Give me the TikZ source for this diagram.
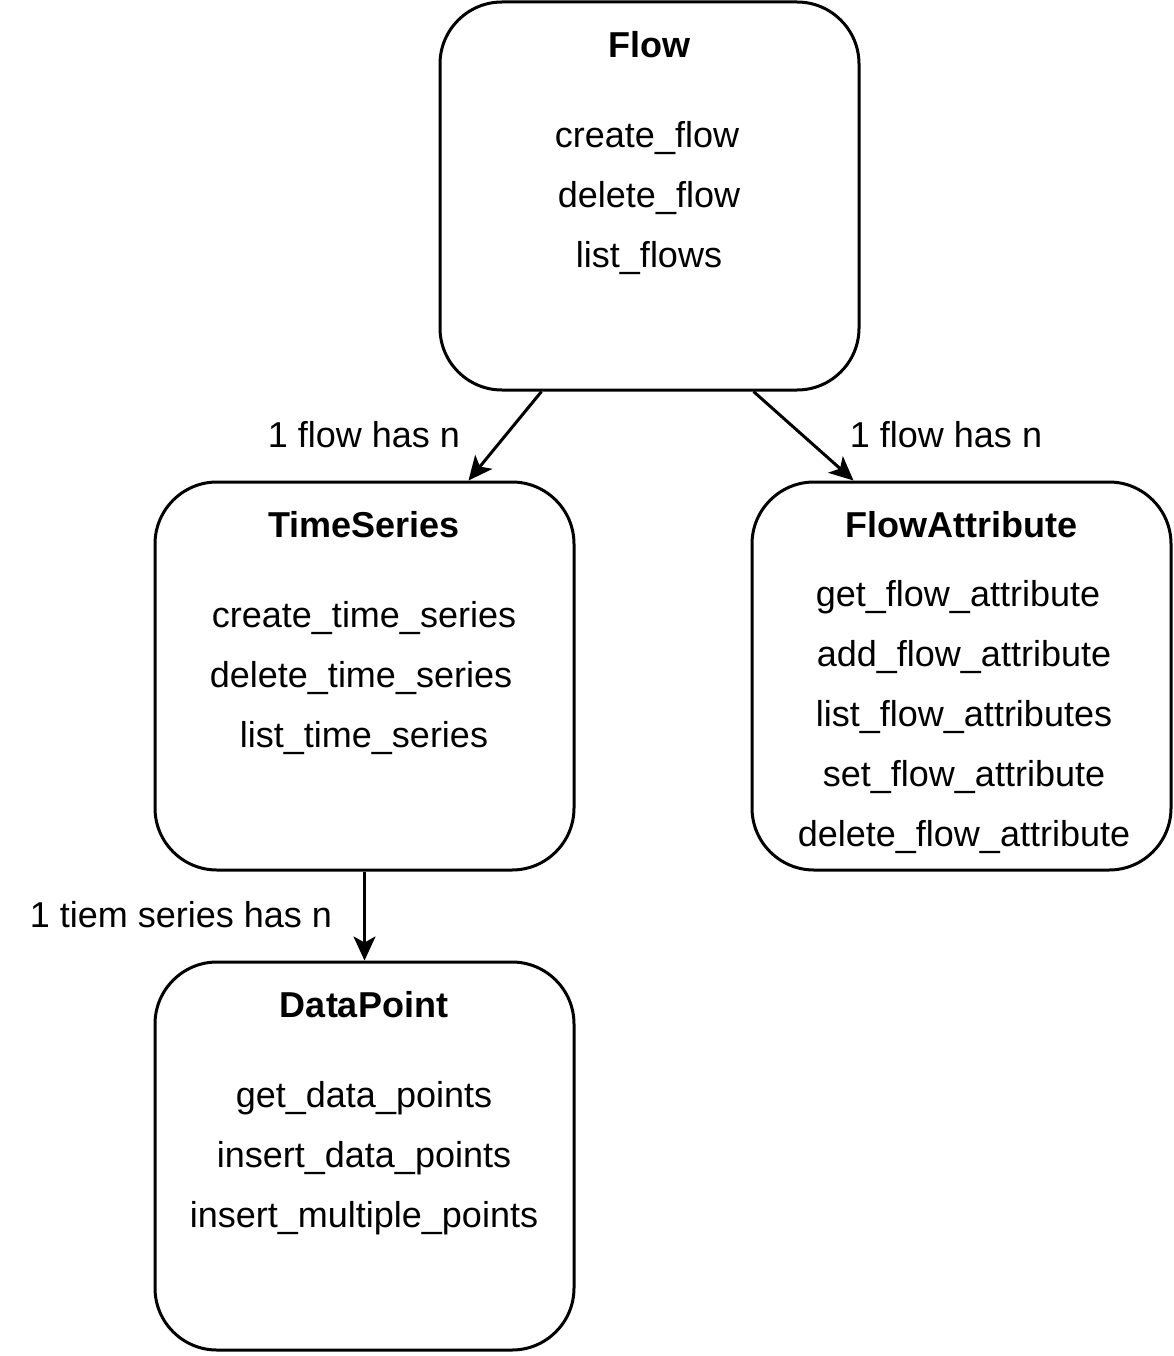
\documentclass[tikz,border=0pt]{standalone}
\usepackage{fontspec}
\setmainfont{Liberation Sans}
\usetikzlibrary{arrows.meta,calc}
\begin{document}
\begin{tikzpicture}[x=1pt,y=-1pt,
  box/.style={draw,line width=3pt,rounded corners=62pt,minimum width=419pt,minimum height=388pt,inner sep=0pt},
  title/.style={font=\fontsize{36}{40}\selectfont\bfseries,inner sep=0pt},
  item/.style={font=\fontsize{36}{40}\selectfont,inner sep=0pt},
  lab/.style={font=\fontsize{36}{40}\selectfont,inner sep=0pt},
  arr/.style={line width=3pt,-{Stealth[length=24pt,width=22pt,inset=6pt]}}]
\useasboundingbox (0,0) rectangle (1173,1356);
% boxes
\node[box] (flow) at (649.5,196) {};
\node[box] (ts) at (364.5,676) {};
\node[box] (fa) at (961.5,676) {};
\node[box] (dp) at (364.5,1156) {};
% Flow text
\node[title] (flowT) at (649,45) {Flow};
\node[item] (f1) at (647,138) {create\_flow};
\node[item] (f2) at (649,198) {delete\_flow};
\node[item] (f3) at (649,258) {list\_flows};
% TimeSeries text
\node[title] (tsT) at (364,525) {TimeSeries};
\node[item] (t1) at (364,618) {create\_time\_series};
\node[item] (t2) at (361,678) {delete\_time\_series};
\node[item] (t3) at (364,738) {list\_time\_series};
% FlowAttribute text
\node[title] (faT) at (961,525) {FlowAttribute};
\node[item] (a1) at (958,597) {get\_flow\_attribute};
\node[item] (a2) at (964,657) {add\_flow\_attribute};
\node[item] (a3) at (964,717) {list\_flow\_attributes};
\node[item] (a4) at (964,777) {set\_flow\_attribute};
\node[item] (a5) at (964,837) {delete\_flow\_attribute};
% DataPoint text
\node[title] (dpT) at (364,1005) {DataPoint};
\node[item] (d1) at (364,1098) {get\_data\_points};
\node[item] (d2) at (364,1158) {insert\_data\_points};
\node[item] (d3) at (364,1218) {insert\_multiple\_points};
% connectors
\draw[arr] ([xshift=103pt]flow.south west) -- ([xshift=315pt]ts.north west);
\draw[arr] ([xshift=315pt]flow.south west) -- ([xshift=103pt]fa.north west);
\draw[arr] (ts.south) -- (dp.north);
% labels
\node[lab] (l1) at (364,435) {1 flow has n};
\node[lab] (l2) at (946,435) {1 flow has n};
\node[lab] (l3) at (181,915) {1 tiem series has n};
\end{tikzpicture}
\end{document}
